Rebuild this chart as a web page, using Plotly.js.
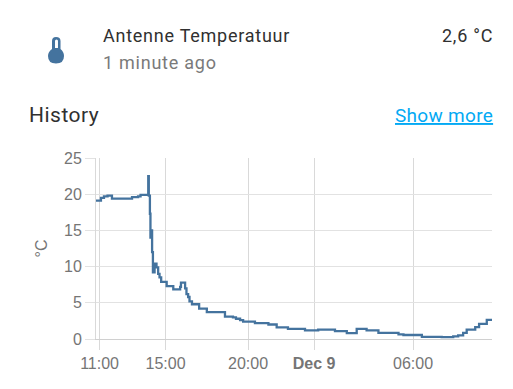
<!DOCTYPE html>
<html>
<head>
<meta charset="utf-8">
<script src="https://cdn.plot.ly/plotly-3.0.1.min.js"></script>
<style>html,body{margin:0;padding:0;background:#fff;overflow:hidden}#chart{width:513px;height:389px}</style>
</head>
<body>
<div id="chart"></div>
<script>
const day1 = "2021-12-08 ";
const day2 = "2021-12-09 ";
const timesDay1 = ["10:47","11:05","11:16","11:29","11:45","12:58","13:20","13:29","13:55","13:57","13:59","14:03","14:05","14:07","14:11","14:14","14:20","14:27","14:33","14:38","14:44","15:04","15:28","15:53","15:56","16:11","16:16","16:22","16:27","16:36","17:02","17:30","18:36","19:05","19:16","19:31","19:42","20:25","21:14","21:44","22:25","23:27"];
const tempsDay1 = [19.1,19.5,19.7,19.8,19.4,19.6,19.7,19.9,19.9,22.5,19.8,17.3,14.0,15.0,12.0,9.2,10.4,9.9,9.0,8.5,7.9,7.3,6.85,7.2,7.8,7.0,6.2,5.8,5.2,4.8,4.2,3.7,3.1,3.0,2.8,2.6,2.4,2.2,2.0,1.6,1.4,1.2];
const timesDay2 = ["00:15","01:16","01:59","02:35","03:11","03:54","05:07","05:25","06:32","07:44","08:26","08:44","09:02","09:15","09:46","10:00","10:28","10:47"];
const tempsDay2 = [1.3,1.1,0.8,1.4,1.2,0.85,0.65,0.55,0.3,0.25,0.35,0.5,0.85,1.3,1.65,2.1,2.65,2.65];
const xTickVals = ["2021-12-08 11:00","2021-12-08 15:00","2021-12-08 20:00","2021-12-09 00:00","2021-12-09 06:00"];
const xTickText = ["11:00","15:00","20:00","<b>Dec 9</b>","06:00"];
const yTickVals = [0,5,10,15,20,25];
const headerName = "Antenne Temperatuur";
const headerAgo = "1 minute ago";
const headerValue = "2,6 °C";
const historyLabel = "History";
const showMoreLabel = "Show more";

const times = timesDay1.map(t => day1 + t).concat(timesDay2.map(t => day2 + t));
const temps = tempsDay1.concat(tempsDay2);

const L = 96, R = 492, T = 158, B = 339;
const px = x => (x - L) / (R - L);
const py = y => (B - y) / (B - T);
const ann = (text, x, y, size, color, anchor, spacing) => ({
  text: '<span style="letter-spacing:' + spacing + 'px">' + text + '</span>',
  xref: "paper", yref: "paper", x: px(x), y: py(y), xanchor: anchor || "left", yanchor: "middle",
  showarrow: false, font: {family: "Roboto, sans-serif", size, color}
});
const P = (x, y) => px(x).toFixed(4) + "," + py(y).toFixed(4);

// thermometer icon outline
const icon = "M" + P(52,49) + " Q" + P(48,52) + " " + P(48,56) +
  " Q" + P(48,63.5) + " " + P(56,63.5) + " Q" + P(64,63.5) + " " + P(64,56) +
  " Q" + P(64,52) + " " + P(60.5,49) + " L" + P(60.5,41) +
  " Q" + P(60.5,37) + " " + P(56,37) + " Q" + P(52,37) + " " + P(52,41) + " Z";
const iconHole = "M" + P(55,48) + " L" + P(55,41) + " Q" + P(55,39.5) + " " + P(56.5,39.5) +
  " Q" + P(58,39.5) + " " + P(58,41) + " L" + P(58,48) + " Z";

const tickFamily = "'Liberation Sans', Arial, sans-serif";
Plotly.newPlot("chart", [{
  x: times, y: temps, type: "scatter", mode: "lines",
  line: {color: "#44739e", width: 2.3, shape: "hv"}, hoverinfo: "skip"
}], {
  width: 513, height: 389, showlegend: false,
  paper_bgcolor: "#fff", plot_bgcolor: "#fff",
  margin: {l: L, r: 513 - R, t: T, b: 389 - B, pad: 0},
  font: {family: tickFamily, color: "#757575", size: 16},
  xaxis: {
    type: "date", range: ["2021-12-08 10:47", "2021-12-09 10:47"],
    tickmode: "array", tickvals: xTickVals, ticktext: xTickText,
    ticks: "outside", ticklen: 10, tickcolor: "#d9d9d9", tickwidth: 1,
    showgrid: true, gridcolor: "#d9d9d9", gridwidth: 1, zeroline: false,
    showline: true, linecolor: "#d0d0d0", linewidth: 1,
    tickfont: {family: tickFamily, size: 16, color: "#757575"}, automargin: false
  },
  yaxis: {
    range: [0, 25], tickmode: "array", tickvals: yTickVals,
    ticks: "outside", ticklen: 10, tickcolor: "#e2e2e2", tickwidth: 1,
    showgrid: true, gridcolor: "#e2e2e2", gridwidth: 1, zeroline: false,
    showline: true, linecolor: "#d9d9d9", linewidth: 1,
    tickfont: {family: tickFamily, size: 16, color: "#757575"}, automargin: false,
    title: {text: "°C", standoff: 12, font: {family: tickFamily, size: 16, color: "#757575"}}
  },
  shapes: [
    {type: "path", xref: "paper", yref: "paper", path: icon, fillcolor: "#44739e", line: {width: 0}},
    {type: "path", xref: "paper", yref: "paper", path: iconHole, fillcolor: "#fff", line: {width: 0}}
  ],
  annotations: [
    ann(headerName, 101, 36, 18, "#303030", "left", 0.75),
    ann(headerAgo, 101, 62, 18, "#7a7a7a", "left", 0.75),
    ann(headerValue, 495, 36, 18, "#303030", "right", 0.75),
    ann(historyLabel, 27, 115, 21, "#303030", "left", 0.5),
    ann("<u>" + showMoreLabel + "</u>", 495, 116, 19, "#03a9f4", "right", 0.3)
  ]
}, {displayModeBar: false, staticPlot: true});
</script>
</body>
</html>
